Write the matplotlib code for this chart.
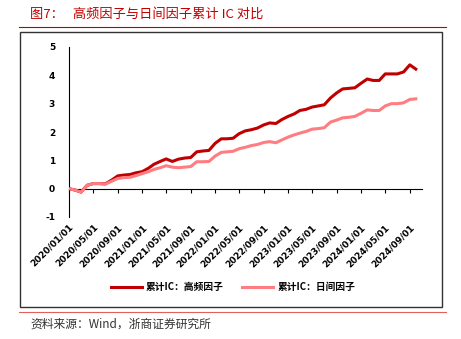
import numpy as np
import pandas as pd
import matplotlib
matplotlib.use("Agg")
import matplotlib.pyplot as plt
from matplotlib.patches import Rectangle
from matplotlib.lines import Line2D

plt.rcParams['font.family'] = ['Noto Sans CJK SC', 'DejaVu Sans']

# monthly cumulative IC, 2020/01 .. 2024/10
dates = pd.date_range("2020-01-01", periods=58, freq="MS")
ic_high_freq = [
    0.00, -0.05, -0.12, 0.12, 0.18, 0.18, 0.17, 0.30, 0.45, 0.48,
    0.50, 0.56, 0.60, 0.72, 0.86, 0.96, 1.05, 0.96, 1.04, 1.08,
    1.10, 1.30, 1.33, 1.35, 1.60, 1.76, 1.76, 1.78, 1.94, 2.04,
    2.08, 2.14, 2.25, 2.32, 2.30, 2.44, 2.55, 2.64, 2.76, 2.80,
    2.88, 2.92, 2.96, 3.20, 3.38, 3.52, 3.54, 3.56, 3.72, 3.87,
    3.82, 3.82, 4.05, 4.05, 4.05, 4.12, 4.37, 4.22,
]
ic_daily = [
    0.00, -0.05, -0.12, 0.12, 0.18, 0.18, 0.16, 0.26, 0.36, 0.39,
    0.40, 0.46, 0.53, 0.60, 0.68, 0.74, 0.81, 0.76, 0.74, 0.76,
    0.78, 0.95, 0.95, 0.96, 1.15, 1.28, 1.30, 1.32, 1.41, 1.46,
    1.52, 1.56, 1.63, 1.66, 1.62, 1.72, 1.82, 1.90, 1.96, 2.02,
    2.10, 2.12, 2.15, 2.35, 2.42, 2.50, 2.52, 2.55, 2.66, 2.78,
    2.76, 2.76, 2.92, 3.00, 3.00, 3.03, 3.15, 3.17,
]
tick_dates = pd.date_range("2020-01-01", "2024-09-01", freq="4MS")
tick_labels = [d.strftime("%Y/%m/%d") for d in tick_dates]
y_ticks = [-1, 0, 1, 2, 3, 4, 5]

dark_red = "#C00000"
light_red = "#FF7C80"

fig = plt.figure(figsize=(4.61, 3.39), dpi=100)
W, H = 461, 339

def fx(px):
    return px / W

def fy(py):
    return 1 - py / H

# title, rules and frame
fig.text(fx(30), fy(14), "图7：   高频因子与日间因子累计 IC 对比", color=dark_red,
         fontsize=9.5, va="center", ha="left")
fig.add_artist(Line2D([fx(19), fx(446)], [fy(27), fy(27)], color=dark_red, lw=0.8))
fig.add_artist(Rectangle((fx(20), fy(307)), fx(442) - fx(20), fy(32) - fy(307),
                         fill=False, edgecolor="#333333", lw=1.0))
fig.add_artist(Line2D([fx(19), fx(446)], [fy(312), fy(312)], color="#E06060", lw=0.8))
fig.text(fx(30), fy(324), "资料来源：Wind，浙商证券研究所", color="#333333",
         fontsize=8.5, va="center", ha="left")

ax = fig.add_axes([fx(69), fy(217), fx(422) - fx(69), fy(47) - fy(217)])
ax.plot(dates, ic_high_freq, color=dark_red, lw=2.2, label="累计IC：高频因子",
        solid_joinstyle="round", zorder=2)
ax.plot(dates, ic_daily, color=light_red, lw=2.2, label="累计IC：日间因子",
        solid_joinstyle="round", zorder=3)

ax.set_ylim(-1, 5)
ax.set_xlim(tick_dates[0], pd.Timestamp("2024-11-01"))
ax.set_yticks(y_ticks)
ax.set_yticklabels([str(v) for v in y_ticks], fontweight="bold", fontsize=6.5,
                   family=["DejaVu Sans"])
ax.tick_params(axis="y", length=0, pad=10)

for s in ["top", "right"]:
    ax.spines[s].set_visible(False)
ax.spines["left"].set_linewidth(0.8)
ax.spines["bottom"].set_position(("data", 0))
ax.spines["bottom"].set_linewidth(0.8)
ax.set_xticks(tick_dates)
ax.tick_params(axis="x", labelbottom=False, length=3, width=0.8, direction="out")

# date labels sit below the plot area, not on the zero line
sec = ax.secondary_xaxis(0.0)
sec.spines["bottom"].set_visible(False)
sec.set_xticks(tick_dates)
sec.set_xticklabels(tick_labels, rotation=45, ha="right", rotation_mode="anchor",
                    fontweight="bold", fontsize=6.5, family=["DejaVu Sans"])
sec.tick_params(axis="x", length=0, pad=4)

fig.legend(loc="center", bbox_to_anchor=(fx(233), fy(287)), ncol=2, frameon=False,
           prop={"size": 7, "weight": "bold"}, handlelength=3.2,
           columnspacing=1.9, handletextpad=0.4)

fig.savefig("out.png", dpi=100)
